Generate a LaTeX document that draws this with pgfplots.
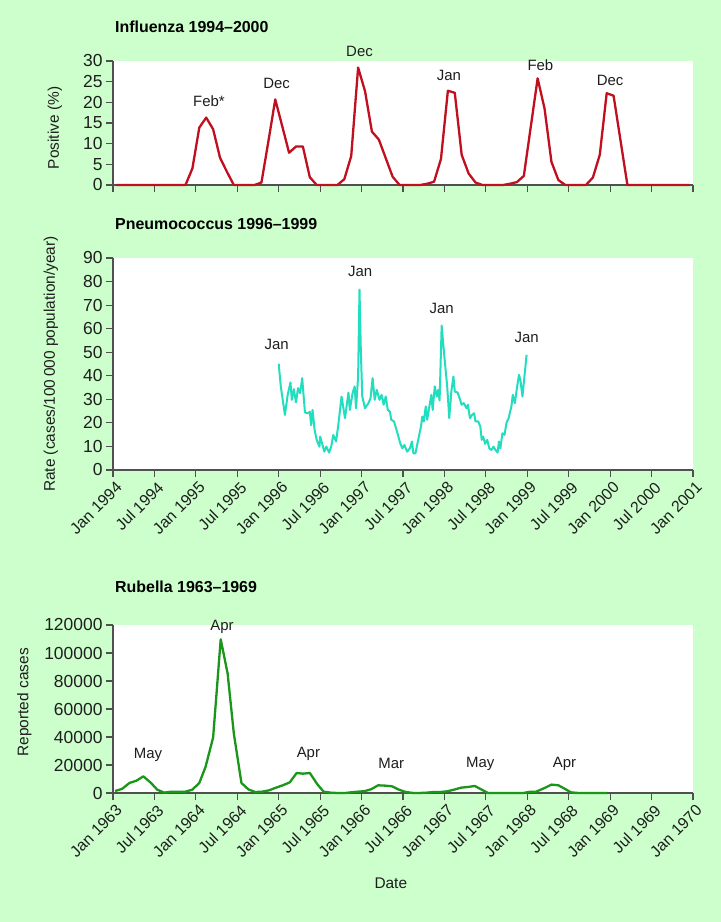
\documentclass[border=0pt]{standalone}
\usepackage{pgfplots}
\pgfplotsset{compat=1.18}
\usepackage{fontspec}
\setmainfont{Liberation Sans}

\definecolor{bg}{RGB}{204,255,204}
\definecolor{flu}{RGB}{192,16,32}
\definecolor{pneu}{RGB}{34,222,190}
\definecolor{rub}{RGB}{26,150,26}
\definecolor{axgray}{RGB}{80,80,80}
\definecolor{txt}{RGB}{30,30,30}

\tikzset{anno/.style={font=\fontsize{15}{18}\selectfont, text=txt}}

\pgfplotsset{panel/.style={
  scale only axis, width=580bp, anchor=south west,
  axis lines=left, axis line style={-, draw=axgray, line width=1.5bp},
  axis background/.style={fill=white},
  tick align=outside, major tick length=7bp,
  tick style={draw=axgray, line width=1.2bp},
  xmin=0, xmax=84, xtick={0,6,...,84},
  ymin=0, clip=false,
  /pgf/number format/assume math mode=true,
  tick label style={font=\fontsize{17.5}{20}\selectfont, text=txt},
  xticklabel style={rotate=45, anchor=north east, yshift=-3bp, inner sep=1bp,
    font=\fontsize{16}{18}\selectfont},
  label style={font=\fontsize{15.5}{18}\selectfont, text=txt},
  title style={font=\bfseries\fontsize{16}{18}\selectfont, text=black,
    at={(axis description cs:0,1)}, anchor=west, inner sep=0pt, xshift=2bp},
  every axis plot/.append style={line width=2.3bp, line join=round},
}}

\begin{document}
\begin{tikzpicture}
\fill[bg] (0,0) rectangle (721bp,922bp);
\useasboundingbox (0,0) rectangle (721bp,922bp);

% influenza, monthly, x = months since Jan 1994
\begin{axis}[panel, at={(113bp,737bp)}, height=124bp,
  ymax=30, ytick={0,5,...,30}, xticklabels={},
  title={Influenza 1994--2000}, title style={yshift=28bp},
  ylabel={Positive (\%)},
  ylabel style={at={(axis description cs:-0.1,0.46)}, anchor=center}]
\addplot[flu] coordinates {
(0.5,0) (1.5,0) (2.5,0) (3.5,0) (4.5,0) (5.5,0) (6.5,0) (7.5,0) (8.5,0) (9.5,0)
(10.5,0) (11.5,4.0) (12.5,13.9) (13.5,16.3) (14.5,13.5) (15.5,6.6) (16.5,3.2) (17.5,0)
(18.5,0) (19.5,0) (20.5,0) (21.5,0.6) (22.5,10.5) (23.5,20.7) (24.5,14.3) (25.5,7.8)
(26.5,9.3) (27.5,9.3) (28.5,1.9) (29.5,0) (30.5,0) (31.5,0) (32.5,0) (33.5,1.4)
(34.5,7.0) (35.5,28.4) (36.5,22.7) (37.5,12.9) (38.5,11.0) (39.5,6.5) (40.5,2.0)
(41.5,0) (42.5,0) (43.5,0) (44.5,0) (45.5,0.3) (46.5,0.8) (47.5,6.3) (48.5,22.8)
(49.5,22.3) (50.5,7.3) (51.5,2.8) (52.5,0.6) (53.5,0) (54.5,0) (55.5,0) (56.5,0)
(57.5,0.3) (58.5,0.7) (59.5,2.2) (60.5,14.0) (61.5,25.8) (62.5,18.5) (63.5,5.6)
(64.5,1.2) (65.5,0) (66.5,0) (67.5,0) (68.5,0) (69.5,1.8) (70.5,7.3) (71.5,22.2)
(72.5,21.6) (73.5,10.8) (74.5,0) (75.5,0) (76.5,0) (77.5,0) (78.5,0) (79.5,0)
(80.5,0) (81.5,0) (82.5,0) (83.5,0)
};
\node[anno] at (axis cs:13.9,20.3) {Feb*};
\node[anno] at (axis cs:23.7,24.6) {Dec};
\node[anno] at (axis cs:35.7,32.3) {Dec};
\node[anno] at (axis cs:48.65,26.6) {Jan};
\node[anno] at (axis cs:61.9,29.0) {Feb};
\node[anno] at (axis cs:72.0,25.4) {Dec};
\end{axis}

% pneumococcus, weekly, x = months since Jan 1994
\begin{axis}[panel, at={(113bp,452bp)}, height=212bp,
  ymax=90, ytick={0,10,...,90},
  xticklabels={Jan 1994,Jul 1994,Jan 1995,Jul 1995,Jan 1996,Jul 1996,Jan 1997,Jul 1997,Jan 1998,Jul 1998,Jan 1999,Jul 1999,Jan 2000,Jul 2000,Jan 2001},
  title={Pneumococcus 1996--1999}, title style={yshift=28bp},
  ylabel={Rate (cases/100\,000 population/year)},
  ylabel style={at={(axis description cs:-0.107,0.5)}, anchor=center}]
\addplot[pneu, line width=2bp] coordinates {
(24.0,45.1) (24.3,35.5) (24.9,23.4) (25.3,31.9) (25.7,37.2) (25.9,29.8) (26.2,34.3)
(26.5,28.7) (26.8,34.8) (27.1,32.6) (27.4,39.0) (27.8,24.4) (28.3,24.1) (28.5,24.8)
(28.7,19.0) (28.9,25.5) (29.2,17.0) (29.5,12.8) (29.9,9.9) (30.0,14.2) (30.3,11.1)
(30.6,7.8) (30.9,9.9) (31.3,7.4) (31.6,9.9) (31.9,14.9) (32.3,12.1) (32.6,18.4)
(33.1,31.2) (33.6,22.0) (34.1,32.9) (34.3,25.5) (34.7,32.6) (35.0,35.5) (35.2,26.2)
(35.5,39.7) (35.7,76.6) (35.9,50.0) (36.1,31.2) (36.5,26.2) (37.0,28.4) (37.3,30.5)
(37.6,39.0) (37.9,29.8) (38.2,34.0) (38.6,29.8) (38.9,31.9) (39.2,27.7) (39.5,31.2)
(39.8,25.5) (40.1,24.8) (40.3,21.3) (40.7,20.6) (41.2,15.6) (41.6,11.3) (41.9,9.2)
(42.2,10.6) (42.6,7.8) (43.0,9.2) (43.3,12.1) (43.5,7.1) (43.8,7.1) (44.2,12.8)
(44.6,18.4) (44.8,22.7) (45.0,20.6) (45.3,27.0) (45.5,21.3) (45.9,28.4) (46.1,31.9)
(46.3,25.5) (46.6,35.5) (46.9,31.2) (47.1,34.0) (47.3,29.5) (47.6,61.3) (47.9,51.1)
(48.4,35.5) (48.7,22.0) (49.0,33.3) (49.3,39.7) (49.5,33.3) (49.9,32.9) (50.2,30.5)
(50.5,27.7) (50.8,28.4) (51.2,26.2) (51.4,27.7) (51.7,22.0) (52.0,23.4) (52.3,24.1)
(52.5,20.6) (52.9,20.6) (53.2,18.4) (53.4,12.8) (53.6,14.2) (53.9,11.1) (54.2,12.8)
(54.5,9.2) (54.8,8.5) (55.1,9.9) (55.4,8.5) (55.7,7.4) (55.9,12.1) (56.1,9.2)
(56.4,15.6) (56.7,14.9) (57.0,20.1) (57.3,22.0) (57.7,27.0) (57.9,31.9) (58.2,28.4)
(58.5,34.8) (58.8,40.4) (59.0,38.3) (59.3,31.2) (59.9,48.9)
};
\node[anno] at (axis cs:23.7,53.2) {Jan};
\node[anno] at (axis cs:35.8,84.4) {Jan};
\node[anno] at (axis cs:47.6,68.8) {Jan};
\node[anno] at (axis cs:59.9,56.3) {Jan};
\end{axis}

% rubella, monthly, x = months since Jan 1963
\begin{axis}[panel, at={(113bp,129bp)}, height=168bp,
  ymax=120000, ytick={0,20000,...,120000}, scaled y ticks=false,
  yticklabel style={/pgf/number format/fixed, /pgf/number format/1000 sep={}},
  xticklabels={Jan 1963,Jul 1963,Jan 1964,Jul 1964,Jan 1965,Jul 1965,Jan 1966,Jul 1966,Jan 1967,Jul 1967,Jan 1968,Jul 1968,Jan 1969,Jul 1969,Jan 1970},
  title={Rubella 1963--1969}, title style={yshift=32bp},
  ylabel={Reported cases},
  ylabel style={at={(axis description cs:-0.153,0.54)}, anchor=center},
  xlabel={Date},
  xlabel style={at={(axis description cs:0.479,-0.536)}, anchor=center}]
\addplot[rub] coordinates {
(0.3,1400) (1.3,2900) (2.4,7200) (3.4,8800) (4.4,11900) (5.5,7200) (6.4,2400)
(7.4,300) (8.5,950) (9.4,950) (10.5,950) (11.5,2400) (12.5,7200) (13.4,18600)
(14.5,39600) (15.6,109800) (16.6,85400) (17.5,42500) (18.6,7200) (19.6,2600)
(20.6,700) (21.6,950) (22.6,1900) (23.6,3800) (24.6,5500) (25.6,7600) (26.6,14300)
(27.5,13800) (28.5,14300) (29.6,6200) (30.5,950) (31.5,250) (32.5,0) (33.6,0)
(34.5,500) (35.5,950) (36.5,1400) (37.4,2700) (38.4,5500) (39.4,5250) (40.4,4800)
(41.4,2400) (42.4,700) (43.5,0) (44.4,0) (45.4,250) (46.5,700) (47.4,700)
(48.4,1200) (49.4,2400) (50.4,3800) (51.4,4300) (52.4,5000) (53.4,2400) (54.3,0)
(55.4,0) (56.4,0) (57.4,0) (58.4,0) (59.4,0) (60.5,950) (61.3,950) (62.6,3800)
(63.5,6000) (64.5,5500) (65.4,3100) (66.3,500) (67.4,0) (68.4,0) (69.4,0)
(70.4,0) (71.6,0)
};
\node[anno] at (axis cs:5.07,27000) {May};
\node[anno] at (axis cs:15.8,118900) {Apr};
\node[anno] at (axis cs:28.3,28200) {Apr};
\node[anno] at (axis cs:40.3,21000) {Mar};
\node[anno] at (axis cs:53.2,20500) {May};
\node[anno] at (axis cs:65.4,21000) {Apr};
\end{axis}
\end{tikzpicture}
\end{document}
